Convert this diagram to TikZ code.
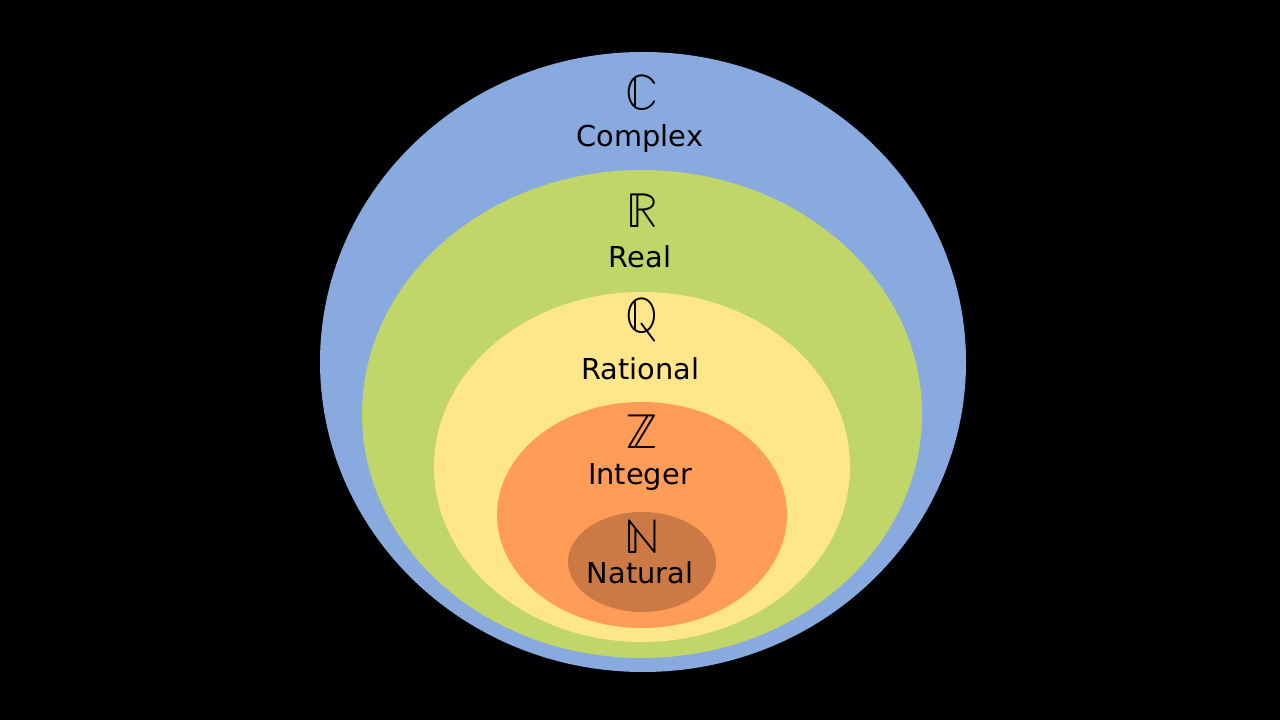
\documentclass[tikz,border=0pt]{standalone}
\usepackage{fontspec}
\setmainfont{DejaVu Sans}
\newfontfamily\bbfont{latinmodern-math.otf}
\usepackage{tikz}
\definecolor{cblue}{HTML}{88AADF}
\definecolor{cgreen}{HTML}{C0D668}
\definecolor{cyellow}{HTML}{FFE68A}
\definecolor{corange}{HTML}{FF9C57}
\definecolor{cbrown}{HTML}{CC7A45}
\tikzset{
  setname/.style={font=\fontsize{8.2}{9}\selectfont, inner sep=0pt},
  setsym/.style={font=\bbfont\fontsize{14}{15}\selectfont, inner sep=0pt}
}

\begin{document}
\begin{tikzpicture}[x=1cm, y=1cm]
\fill[black] (0,0) rectangle (12.8,-7.2);

\fill[cblue] (6.43,-3.62) ellipse [x radius=3.23, y radius=3.10];
\fill[cgreen] (6.42,-4.14) ellipse [x radius=2.80, y radius=2.44];
\fill[cyellow] (6.42,-4.67) ellipse [x radius=2.08, y radius=1.75];
\fill[corange] (6.42,-5.15) ellipse [x radius=1.45, y radius=1.13];
\fill[cbrown] (6.42,-5.62) ellipse [x radius=0.74, y radius=0.50];

\node[setsym] (symC) at (6.42,-0.93) {ℂ};
\node[setname] (nameC) at (6.40,-1.39) {Complex};

\node[setsym] (symR) at (6.42,-2.11) {ℝ};
\node[setname] (nameR) at (6.40,-2.57) {Real};

\node[setsym] (symQ) at (6.42,-3.20) {ℚ};
\node[setname] (nameQ) at (6.40,-3.69) {Rational};

\node[setsym] (symZ) at (6.42,-4.32) {ℤ};
\node[setname] (nameZ) at (6.40,-4.77) {Integer};

\node[setsym] (symN) at (6.42,-5.37) {ℕ};
\node[setname] (nameN) at (6.40,-5.73) {Natural};
\end{tikzpicture}
\end{document}
